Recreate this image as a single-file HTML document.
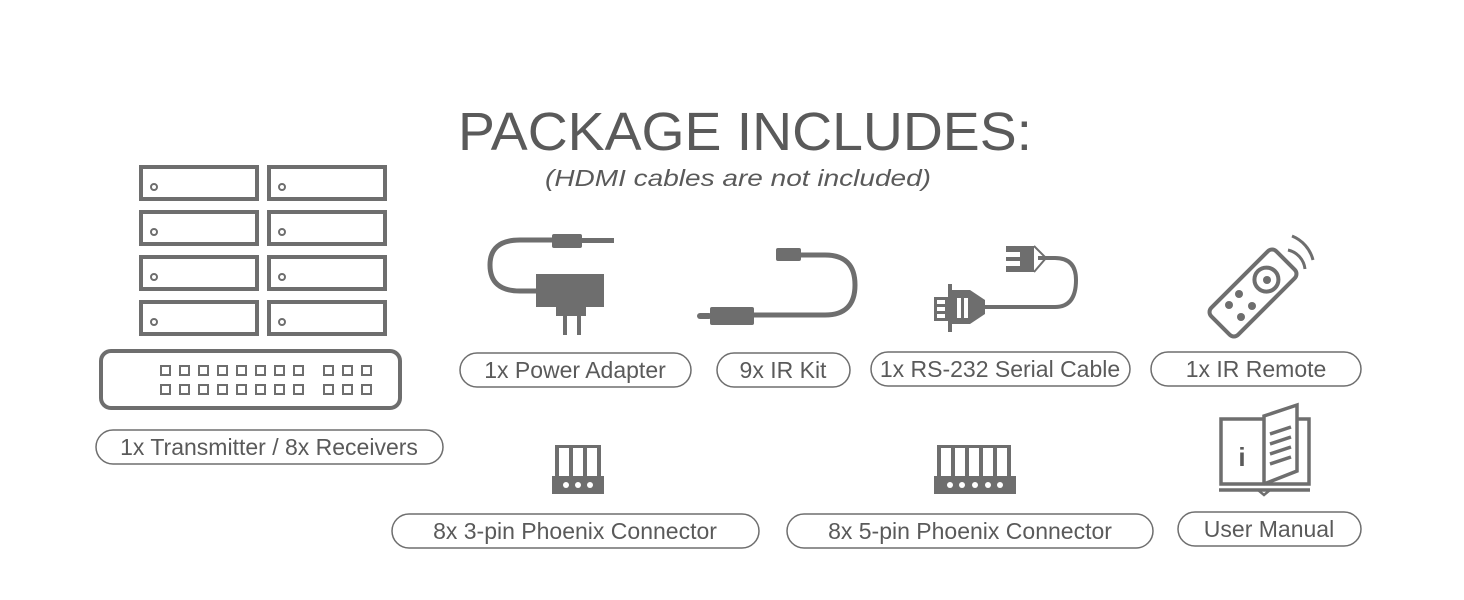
<!DOCTYPE html>
<html><head><meta charset="utf-8"><style>
html,body{margin:0;padding:0;background:#fff;}
svg{display:block;}
text{font-family:"Liberation Sans",sans-serif;fill:#5a5a5a;}
</style></head><body>
<svg width="1464" height="600" viewBox="0 0 1464 600" xmlns="http://www.w3.org/2000/svg">
<text x="745" y="150" font-size="54" text-anchor="middle" textLength="574" lengthAdjust="spacingAndGlyphs" fill="#666">PACKAGE INCLUDES:</text>
<text x="738" y="186" font-size="23" font-style="italic" text-anchor="middle" textLength="386" lengthAdjust="spacingAndGlyphs" fill="#777">(HDMI cables are not included)</text>

<g fill="none" stroke="#6e6e6e" stroke-width="4">
<rect x="141" y="167" width="116" height="32"/><rect x="269" y="167" width="116" height="32"/>
<rect x="141" y="212" width="116" height="32"/><rect x="269" y="212" width="116" height="32"/>
<rect x="141" y="257" width="116" height="32"/><rect x="269" y="257" width="116" height="32"/>
<rect x="141" y="302" width="116" height="32"/><rect x="269" y="302" width="116" height="32"/>
<rect x="101" y="351" width="299" height="57" rx="10"/>
</g>
<g fill="none" stroke="#6e6e6e" stroke-width="2">
<circle cx="154" cy="187" r="3"/><circle cx="282" cy="187" r="3"/>
<circle cx="154" cy="232" r="3"/><circle cx="282" cy="232" r="3"/>
<circle cx="154" cy="277" r="3"/><circle cx="282" cy="277" r="3"/>
<circle cx="154" cy="322" r="3"/><circle cx="282" cy="322" r="3"/>
<g id="sq">
<rect x="161" y="366" width="9" height="9"/><rect x="180" y="366" width="9" height="9"/><rect x="199" y="366" width="9" height="9"/><rect x="218" y="366" width="9" height="9"/><rect x="237" y="366" width="9" height="9"/><rect x="256" y="366" width="9" height="9"/><rect x="275" y="366" width="9" height="9"/><rect x="294" y="366" width="9" height="9"/>
<rect x="324" y="366" width="9" height="9"/><rect x="343" y="366" width="9" height="9"/><rect x="362" y="366" width="9" height="9"/>
</g>
<use href="#sq" y="19"/>
</g>

<g fill="none" stroke="#6e6e6e" stroke-width="1.5">
<rect x="96" y="430" width="347" height="34" rx="17"/>
<rect x="460" y="353" width="231" height="34" rx="17"/>
<rect x="717" y="353" width="133" height="34" rx="17"/>
<rect x="871" y="352" width="259" height="34" rx="17"/>
<rect x="1151" y="352" width="210" height="34" rx="17"/>
<rect x="392" y="514" width="367" height="34" rx="17"/>
<rect x="787" y="514" width="366" height="34" rx="17"/>
<rect x="1178" y="512" width="183" height="34" rx="17"/>
</g>
<g font-size="23" text-anchor="middle">
<text x="269" y="455">1x Transmitter / 8x Receivers</text>
<text x="575" y="378">1x Power Adapter</text>
<text x="783" y="378">9x IR Kit</text>
<text x="1000" y="377">1x RS-232 Serial Cable</text>
<text x="1256" y="377">1x IR Remote</text>
<text x="575" y="539">8x 3-pin Phoenix Connector</text>
<text x="970" y="539">8x 5-pin Phoenix Connector</text>
<text x="1269" y="537">User Manual</text>
</g>

<g fill="#6e6e6e" stroke="none">
<path d="M570 240 H520 Q490 240 490 265 Q490 291 520 291 H540" fill="none" stroke="#6e6e6e" stroke-width="5"/>
<rect x="552" y="234" width="30" height="14" rx="2"/><rect x="580" y="238" width="34" height="5"/>
<rect x="536" y="274" width="68" height="33"/><rect x="556" y="306" width="30" height="10"/>
<rect x="563" y="314" width="4" height="21"/><rect x="577" y="314" width="4" height="21"/>
<path d="M800 255 H825 Q855 255 855 285 Q855 315 825 315 H750" fill="none" stroke="#6e6e6e" stroke-width="5"/>
<rect x="776" y="248" width="25" height="13" rx="2"/>
<rect x="710" y="307" width="44" height="18" rx="2"/><rect x="697" y="313" width="15" height="6" rx="3"/>
<path d="M1038 258 H1055 Q1076 258 1076 280 Q1076 307 1055 307 H985" fill="none" stroke="#6e6e6e" stroke-width="4"/>
<path d="M1006 246 H1034 V272 H1006 V266 H1020 V261 H1006 V257 H1020 V252 H1006 Z"/>
<path d="M1034 246 L1046 258 L1034 272" fill="none" stroke="#6e6e6e" stroke-width="2"/>
<rect x="948" y="284" width="4" height="48"/>
<rect x="934" y="297" width="14" height="24"/>
<path d="M952 290 H970 L985 300 V314 L970 324 H952 Z"/>
<rect x="937" y="300" width="8" height="4" fill="#fff"/><rect x="937" y="307" width="8" height="4" fill="#fff"/><rect x="937" y="314" width="8" height="4" fill="#fff"/>
<rect x="957" y="298" width="4" height="20" fill="#fff"/><rect x="964" y="298" width="4" height="20" fill="#fff"/>
</g>

<g transform="translate(1253 293) rotate(45)" fill="none" stroke="#6e6e6e" stroke-width="4">
<rect x="-19" y="-46" width="38" height="92" rx="6"/>
<circle cx="0" cy="-19" r="12"/>
</g>
<g fill="#6e6e6e">
<circle cx="1267" cy="280" r="4"/>
<circle cx="1239" cy="294" r="4"/><circle cx="1229" cy="305" r="4"/><circle cx="1252" cy="306" r="4"/><circle cx="1241" cy="317" r="4"/>
</g>
<path d="M1288 250 A22 22 0 0 1 1305 269" fill="none" stroke="#6e6e6e" stroke-width="3"/>
<path d="M1292 236 A35 35 0 0 1 1313 260" fill="none" stroke="#6e6e6e" stroke-width="3"/>

<g fill="none" stroke="#6e6e6e" stroke-width="3.5">
<path d="M1264 419 H1221 V484 H1264"/>
<path d="M1264 484 V416 L1297 405 V471 L1264 484"/>
<path d="M1297 419 H1309 V484 H1264"/>
<path d="M1219 490 H1310"/>
<path d="M1270 434 L1291 427 M1270 444 L1291 437 M1270 454 L1291 447 M1270 464 L1291 457"/>
</g>
<path d="M1258 490 L1264 495 L1270 490" fill="none" stroke="#6e6e6e" stroke-width="2.5"/>
<text x="1242" y="466" font-size="26" font-weight="bold" text-anchor="middle" fill="#6e6e6e">i</text>

<g fill="#6e6e6e">
<rect x="552" y="476" width="52" height="18"/>
<rect x="555" y="445" width="4" height="31"/><rect x="569" y="445" width="4" height="31"/><rect x="583" y="445" width="4" height="31"/><rect x="597" y="445" width="4" height="31"/>
<rect x="555" y="445" width="46" height="3"/>
<rect x="934" y="476" width="82" height="18"/>
<rect x="937" y="445" width="4" height="31"/><rect x="951" y="445" width="4" height="31"/><rect x="965" y="445" width="4" height="31"/><rect x="979" y="445" width="4" height="31"/><rect x="993" y="445" width="4" height="31"/><rect x="1007" y="445" width="4" height="31"/>
<rect x="937" y="445" width="74" height="3"/>
</g>
<g fill="#fff">
<circle cx="566" cy="485" r="3"/><circle cx="578" cy="485" r="3"/><circle cx="590" cy="485" r="3"/>
<circle cx="950" cy="485" r="3"/><circle cx="962" cy="485" r="3"/><circle cx="975" cy="485" r="3"/><circle cx="988" cy="485" r="3"/><circle cx="1000" cy="485" r="3"/>
</g>
</svg>
</body></html>
